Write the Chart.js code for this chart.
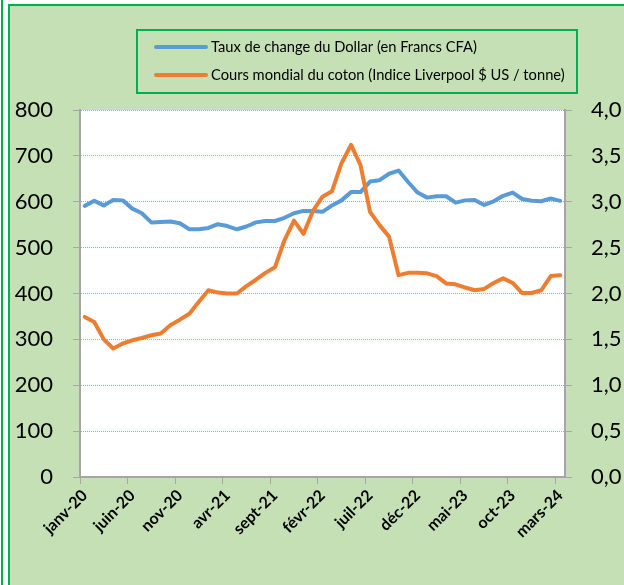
<!DOCTYPE html>
<html>
<head>
<meta charset="utf-8">
<script src="https://cdn.jsdelivr.net/npm/chart.js@4/dist/chart.umd.min.js"></script>
<style>
  html, body { margin: 0; padding: 0; background: #fff; overflow: hidden; }
  #edge { position: absolute; left: 1px; top: 0; width: 2px; height: 585px; background: #00b050; }
  #frame { position: absolute; left: 8px; top: 4px; width: 700px; height: 700px;
           background: #c5e0b4; border: 2px solid #00b050; }
  #wrap { position: absolute; left: 0; top: 0; width: 624px; height: 585px; }
</style>
</head>
<body>
<div id="edge"></div>
<div id="frame"></div>
<div id="wrap"><canvas id="coton" width="624" height="585"></canvas></div>
<script>
// mois de janv-20 à mars-24
const moisCourts = ['janv', 'févr', 'mars', 'avr', 'mai', 'juin', 'juil', 'août', 'sept', 'oct', 'nov', 'déc'];
const mois = [];
for (let a = 2020; a <= 2024; a++) {
    for (let m = 0; m < 12; m++) {
        if (a === 2024 && m > 2) break;
        mois.push(moisCourts[m] + '-' + String(a).slice(2));
    }
}

// Taux de change du Dollar (FCFA) - axe gauche
const tauxDollar = [
    591, 602, 592, 604, 603, 585, 575, 555, 556, 557,
    553, 540, 540, 543, 551, 547, 540, 546, 555, 558,
    558, 565, 575, 580, 580, 578, 592, 603, 621, 621,
    644, 647, 661, 668, 643, 620, 609, 612, 612, 598,
    603, 604, 593, 601, 613, 620, 606, 602, 601, 607,
    602
];

// Indice Liverpool ($ US) - axe droit
const coursCoton = [
    1.745, 1.69, 1.50, 1.40, 1.455, 1.49, 1.515, 1.545, 1.565, 1.655,
    1.715, 1.78, 1.91, 2.035, 2.01, 2.00, 2.00, 2.08, 2.15, 2.225,
    2.285, 2.58, 2.795, 2.65, 2.90, 3.055, 3.115, 3.42, 3.62, 3.40,
    2.89, 2.745, 2.62, 2.20, 2.225, 2.225, 2.22, 2.19, 2.11, 2.10,
    2.065, 2.035, 2.05, 2.115, 2.165, 2.115, 2.005, 2.005, 2.035, 2.19,
    2.20
];

const POLICE = 'Lato, "Noto Sans", sans-serif';
const gris = '#a6a6a6';

// fond blanc de la zone de tracé + légende encadrée
const cadre = {
    id: 'cadre',
    beforeDraw(chart) {
        const { ctx, chartArea: a } = chart;
        ctx.save();
        ctx.fillStyle = '#ffffff';
        ctx.fillRect(a.left, a.top, a.right - a.left, a.bottom - a.top);
        ctx.restore();
    },
    afterDraw(chart) {
        const ctx = chart.ctx;
        ctx.save();
        ctx.strokeStyle = '#00b050';
        ctx.lineWidth = 2;
        ctx.strokeRect(137, 30, 440, 63);
        ctx.font = '14.7px ' + POLICE;
        ctx.textBaseline = 'middle';
        ctx.fillStyle = '#000';
        chart.data.datasets.forEach((ds, i) => {
            const y = 47 + i * 28;
            ctx.strokeStyle = ds.borderColor;
            ctx.lineWidth = 4;
            ctx.lineCap = 'round';
            ctx.beginPath();
            ctx.moveTo(156, y);
            ctx.lineTo(206, y);
            ctx.stroke();
            ctx.fillText(ds.label, 211, y);
        });
        ctx.restore();
    }
};

new Chart(document.getElementById('coton'), {
    type: 'line',
    data: {
        labels: mois,
        datasets: [{
            label: 'Taux de change du Dollar (en Francs CFA)',
            data: tauxDollar,
            borderColor: '#5b9bd5',
            yAxisID: 'y',
            order: 1
        }, {
            label: 'Cours mondial du coton (Indice Liverpool $ US / tonne)',
            data: coursCoton,
            borderColor: '#ed7d31',
            yAxisID: 'y1',
            order: 0
        }]
    },
    options: {
        responsive: false,
        animation: false,
        devicePixelRatio: 1,
        layout: { padding: { top: 110 } },
        elements: {
            line: { borderWidth: 4, tension: 0, borderJoinStyle: 'round', borderCapStyle: 'round' },
            point: { radius: 0 }
        },
        plugins: { legend: { display: false }, tooltip: { enabled: false } },
        scales: {
            x: {
                offset: true,
                grid: {
                    offset: true,
                    drawOnChartArea: false,
                    tickLength: 7,
                    tickColor: (c) => (c.index % 5 === 0 ? gris : 'transparent')
                },
                border: { color: gris, width: 2 },
                ticks: {
                    autoSkip: false,
                    minRotation: 45,
                    maxRotation: 45,
                    padding: 2,
                    color: '#000',
                    font: { family: POLICE, size: 16, weight: 'bold' },
                    callback: (v, i) => (i % 5 === 0 ? mois[i] : '')
                },
                afterFit: (s) => { s.height = 108; }
            },
            y: {
                position: 'left',
                min: 0,
                max: 800,
                ticks: {
                    stepSize: 100,
                    padding: 20,
                    color: '#000',
                    font: { family: POLICE, size: 22 }
                },
                grid: {
                    color: (c) => (c.tick && c.tick.value === 0 ? 'transparent' : '#8faadc'),
                    lineWidth: 1,
                    tickLength: 7,
                    tickColor: gris
                },
                border: { color: gris, width: 2, dash: [1, 1] },
                afterFit: (s) => { s.width = 80; }
            },
            y1: {
                position: 'right',
                min: 0,
                max: 4,
                ticks: {
                    stepSize: 0.5,
                    padding: 19,
                    color: '#000',
                    font: { family: POLICE, size: 22 },
                    callback: (v) => v.toFixed(1).replace('.', ',')
                },
                grid: { drawOnChartArea: false, tickLength: 7, tickColor: gris },
                border: { color: gris, width: 2 },
                afterFit: (s) => { s.width = 59; }
            }
        }
    },
    plugins: [cadre]
});
</script>
</body>
</html>
